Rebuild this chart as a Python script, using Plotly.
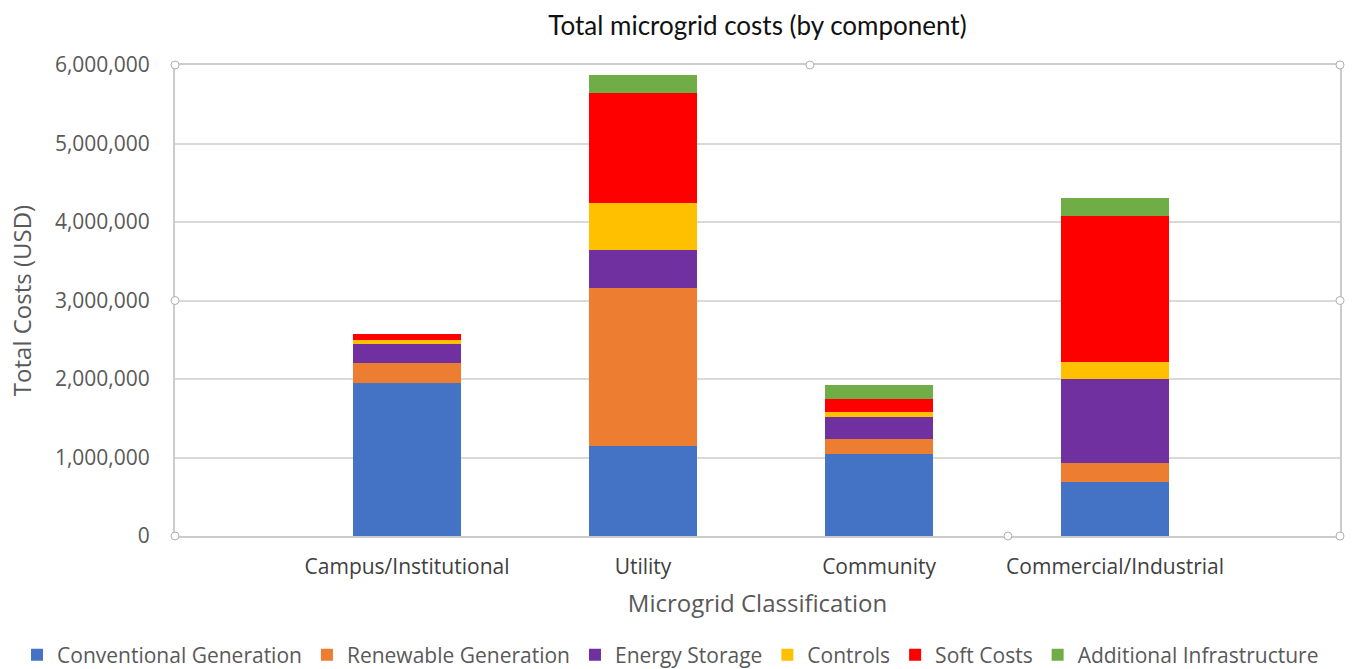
import plotly.graph_objects as go

categories = ["Campus/Institutional", "Utility", "Community", "Commercial/Industrial"]
series_names = ["Conventional Generation", "Renewable Generation", "Energy Storage",
                "Controls", "Soft Costs", "Additional Infrastructure"]
conventional = [1950000, 1150000, 1040000, 690000]
renewable = [250000, 2010000, 200000, 240000]
storage = [250000, 480000, 280000, 1070000]
controls = [50000, 600000, 60000, 220000]
soft_costs = [70000, 1400000, 170000, 1860000]
additional = [0, 230000, 170000, 230000]
colors = ["#4472C4", "#ED7D31", "#7030A0", "#FFC000", "#FF0000", "#70AD47"]
y_ticks = [0, 1000000, 2000000, 3000000, 4000000, 5000000, 6000000]

series = [conventional, renewable, storage, controls, soft_costs, additional]

fig = go.Figure()
x_pos = list(range(len(categories)))
for name, vals, col in zip(series_names, series, colors):
    fig.add_trace(go.Bar(x=x_pos, y=vals, name=name, marker_color=col,
                         marker_line_width=0, width=0.455))

font_main = "Open Sans, Lato, sans-serif"
fig.update_layout(
    barmode="stack",
    width=1359, height=669,
    paper_bgcolor="white", plot_bgcolor="white",
    margin=dict(l=175, r=19, t=65, b=133, autoexpand=False),
    title=dict(text="Total microgrid costs (by component)", x=0.5, xanchor="center",
               xref="paper", y=0.962, yanchor="middle",
               font=dict(family="Lato, Open Sans, sans-serif", size=26, color="#111111")),
    font=dict(family=font_main, color="#595959"),
    xaxis=dict(range=[-0.983, 3.953], tickvals=x_pos, ticktext=categories,
               tickfont=dict(size=21, color="#404040"), showgrid=False, zeroline=False,
               showline=True, linecolor="#cccccc", linewidth=2, mirror=True, ticks="",
               ticklabelstandoff=11,
               title=dict(text="Microgrid Classification", font=dict(size=24, color="#595959"),
                          standoff=16)),
    yaxis=dict(range=[0, 6000000], tickvals=y_ticks,
               ticktext=[f"{v:,}" for v in y_ticks], tickfont=dict(size=21, color="#595959"),
               showgrid=True, gridcolor="#d9d9d9", gridwidth=1.5, zeroline=False,
               showline=True, linecolor="#cccccc", linewidth=2, mirror=True, ticks="",
               ticklabelstandoff=19,
               title=dict(text="Total Costs (USD)", font=dict(size=24, color="#595959"),
                          standoff=16)),
    legend=dict(orientation="h", x=-0.1356, xanchor="left",
                y=-0.253, yanchor="middle",
                font=dict(size=21, color="#595959"), traceorder="normal",
                itemwidth=30, tracegroupgap=0),
    showlegend=True,
)

# selection handles on plot area frame
handles = [(0, 1), (0.545, 1), (1, 1), (0, 0.5), (1, 0.5), (0, 0), (0.715, 0), (1, 0)]
for hx, hy in handles:
    fig.add_shape(type="circle", xref="paper", yref="paper", x0=-4, y0=-4, x1=4, y1=4,
                  xsizemode="pixel", ysizemode="pixel", xanchor=hx, yanchor=hy,
                  line=dict(color="#b0b0b0", width=1), fillcolor="white")

fig.write_html("out.html", config={"displayModeBar": False},
               post_script="document.body.style.margin='0';")
